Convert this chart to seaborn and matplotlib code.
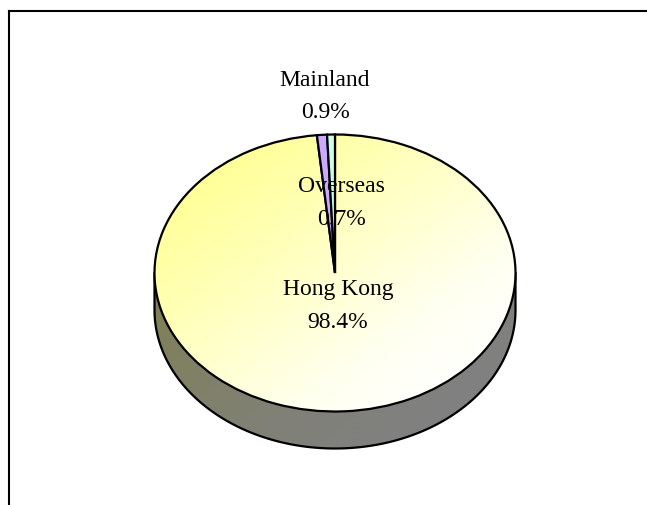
import numpy as np
import matplotlib
matplotlib.use("Agg")
import matplotlib.pyplot as plt
import seaborn as sns
from matplotlib.colors import LinearSegmentedColormap
from matplotlib.patches import Polygon

# ---- chart values ----
regions = ["Hong Kong", "Mainland", "Overseas"]
shares = [98.4, 0.9, 0.7]
share_labels = ["98.4%", "0.9%", "0.7%"]
slice_colors = ["#FFFFCC", "#CCA8FF", "#CCFFE6"]

W, H = 647, 506
CX, CY = 335.0, 274.0   # pie centre in image pixels
RX, RY = 180.5, 138.5   # pie radii in image pixels
DEPTH = 37.0 / RY       # extrusion, in pie units

sns.set_theme(style="white")
plt.rcParams["font.family"] = ["Liberation Serif", "DejaVu Serif"]
palette = sns.color_palette(slice_colors)

fig = plt.figure(figsize=(W / 100, H / 100), dpi=100, facecolor="white")
LEFT, TOP = 8.5, 11.5
ax = fig.add_axes([LEFT / W, 0, 1 - LEFT / W, 1 - TOP / H])

LW = 1.6
wedges, _ = ax.pie(shares, colors=palette, startangle=90, counterclock=False,
                   wedgeprops=dict(edgecolor="black", linewidth=LW, zorder=4))

ax.set_frame_on(True)
ax.set_aspect("auto")
for side in ["right", "bottom"]:
    ax.spines[side].set_visible(False)
for side in ["top", "left"]:
    ax.spines[side].set_visible(True)
    ax.spines[side].set_color("black")
    ax.spines[side].set_linewidth(1.5)
ax.set_xticks([])
ax.set_yticks([])

# diagonal light-to-pale gradient for the big slice
top_cmap = LinearSegmentedColormap.from_list(
    "top", ["#FFFF99", "#FFFFB4", "#FFFFD2", "#FFFFF0", "#FFFFFF"])
side_cmap = LinearSegmentedColormap.from_list(
    "side", ["#80804C", "#80805A", "#808069", "#808078", "#808080"])
n = 256
yy, xx = np.mgrid[1.0:-1.0 - DEPTH:n * 1j, -1.0:1.0:n * 1j]
grad = np.clip(((xx + 0.85) * 0.6 + (0.55 - yy) * 0.6) / 1.75, 0, 1)
extent = (-1.0, 1.0, -1.0 - DEPTH, 1.0)

# side wall
t = np.linspace(np.pi, 2 * np.pi, 200)
wall_xy = np.r_[np.c_[np.cos(t), np.sin(t) - DEPTH], [[1, 0], [-1, 0]]]
wall = Polygon(wall_xy, closed=True, facecolor="none", edgecolor="black",
               linewidth=LW, zorder=3, joinstyle="round")
ax.add_patch(wall)
im_side = ax.imshow(grad, cmap=side_cmap, extent=extent, aspect="auto",
                    vmin=0, vmax=1, zorder=2, interpolation="bilinear")
im_side.set_clip_path(wall)

# top face gradient, clipped to the first wedge
im_top = ax.imshow(grad, cmap=top_cmap, extent=extent, aspect="auto",
                   vmin=0, vmax=1, zorder=3.5, interpolation="bilinear")
im_top.set_clip_path(wedges[0])
wedges[0].set_facecolor("none")

ax.set_xlim((LEFT - CX) / RX, (W - CX) / RX)
ax.set_ylim((CY - H) / RY, (CY - TOP) / RY)

# labels: (centre x, name y, value y) in image pixels
label_px = {"Hong Kong": (338, 289, 322),
            "Mainland": (325, 81, 113),
            "Overseas": (341, 187, 220)}
for name, val in zip(regions, share_labels):
    px, y1, y2 = label_px[name]
    for s, py in ((name, y1), (val, y2)):
        ax.text((px - CX) / RX, (CY - py) / RY, s, ha="center", va="center",
                fontsize=17, color="black", zorder=6)

fig.savefig("out.png", dpi=100)
